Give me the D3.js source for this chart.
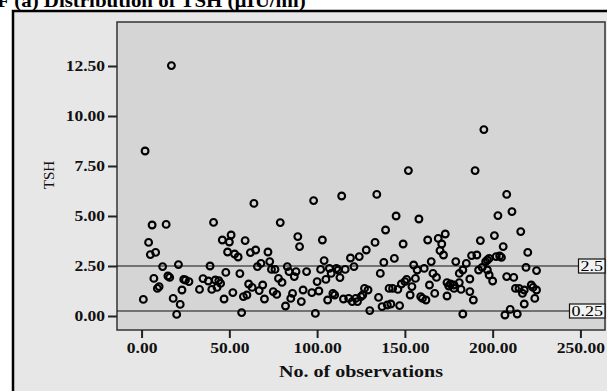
<!DOCTYPE html>
<html>
<head>
<meta charset="utf-8">
<script src="https://cdn.jsdelivr.net/npm/d3@7"></script>
<style>
  body { margin: 0; background: #fff; }
  svg { display: block; font-family: "Liberation Serif", "DejaVu Serif", serif; }
</style>
</head>
<body>
<svg id="chart" width="607" height="391"></svg>
<script>
const obs = [
  1, 2, 4, 5, 6, 7, 8, 9, 10, 12,
  14, 15, 16, 17, 18, 20, 21, 22, 23, 24,
  25, 27, 33, 35, 38, 39, 40, 41, 42, 43,
  44, 45, 46, 47, 48, 49, 50, 51, 52, 53,
  55, 56, 57, 58, 59, 60, 61, 62, 63, 64,
  65, 66, 67, 68, 69, 70, 72, 73, 74, 75,
  76, 77, 78, 79, 80, 82, 83, 84, 85, 86,
  87, 88, 89, 90, 91, 92, 94, 97, 98, 99,
  100, 101, 102, 103, 104, 105, 106, 107, 108, 109,
  110, 111, 112, 113, 114, 115, 116, 118, 119, 120,
  121, 122, 123, 124, 125, 126, 127, 128, 129, 130,
  133, 134, 135, 136, 137, 138, 139, 140, 141, 142,
  143, 144, 145, 146, 147, 148, 149, 150, 151, 152,
  153, 154, 155, 156, 157, 158, 159, 160, 161, 162,
  163, 164, 165, 166, 167, 168, 169, 170, 171, 172,
  173, 174, 174, 175, 176, 178, 178, 179, 181, 181,
  182, 183, 183, 185, 187, 187, 188, 189, 190, 191,
  192, 193, 194, 195, 196, 197, 197, 198, 198, 200,
  201, 202, 203, 204, 205, 206, 207, 208, 208, 210,
  211, 212, 213, 214, 215, 216, 217, 218, 218, 219,
  220, 222, 223, 224, 225, 225
];
const tsh = [
  0.83, 8.25, 3.68, 3.07, 4.55, 1.88, 3.18, 1.38, 1.47, 2.47,
  4.58, 2.00, 1.93, 12.52, 0.88, 0.08, 2.57, 0.58, 1.30, 1.83,
  1.80, 1.72, 1.33, 1.87, 1.75, 2.50, 1.33, 4.68, 1.80, 1.43,
  1.77, 1.63, 3.80, 0.85, 2.18, 3.20, 3.70, 4.05, 1.17, 3.10,
  2.95, 2.12, 0.17, 0.97, 3.77, 1.05, 1.60, 3.17, 1.43, 5.63,
  3.30, 2.47, 1.27, 2.63, 1.55, 0.85, 3.20, 2.72, 2.33, 1.22,
  2.33, 1.08, 1.88, 4.67, 1.68, 0.50, 2.47, 2.22, 0.88, 1.13,
  1.97, 2.22, 3.97, 3.47, 0.72, 1.30, 2.22, 1.17, 5.77, 0.13,
  1.72, 1.25, 2.33, 3.80, 2.77, 1.83, 0.80, 2.38, 2.13, 1.13,
  1.05, 2.38, 2.30, 1.92, 6.00, 0.85, 2.33, 0.88, 2.90, 0.72,
  2.47, 0.88, 0.72, 2.97, 0.97, 1.05, 1.38, 3.30, 1.30, 0.27,
  3.68, 6.08, 0.93, 2.13, 0.47, 2.68, 4.30, 0.55, 1.38, 0.60,
  1.38, 2.88, 5.00, 1.33, 0.52, 1.60, 3.60, 1.72, 1.83, 7.27,
  1.05, 1.47, 2.55, 1.88, 2.30, 4.85, 0.97, 0.88, 2.38, 0.80,
  3.80, 1.55, 2.72, 2.13, 1.13, 1.93, 3.88, 3.27, 3.60, 3.05,
  4.10, 1.67, 1.00, 1.50, 1.60, 1.55, 1.38, 2.72, 2.13, 1.67,
  1.33, 2.30, 0.10, 2.63, 1.85, 1.22, 3.02, 0.80, 7.27, 3.05,
  2.30, 3.77, 2.43, 9.32, 2.72, 2.30, 2.80, 2.88, 2.05, 1.75,
  4.02, 2.97, 5.02, 3.00, 2.93, 3.47, 0.05, 6.08, 1.97, 0.33,
  5.22, 1.93, 1.38, 0.10, 1.38, 4.22, 1.13, 1.30, 0.60, 2.43,
  3.18, 1.55, 1.43, 0.88, 2.27, 1.30
];
const xTicks = [0, 50, 100, 150, 200, 250];
const yTicks = [0, 2.5, 5, 7.5, 10, 12.5];
const refLines = [2.5, 0.25];
const refLabels = ["2.5", "0.25"];

const svg = d3.select("#chart");

// the source figure is stretched sideways, so widen glyphs to match
function stretch(sel, k) {
  sel.each(function () {
    const w = this.getComputedTextLength();
    d3.select(this).attr("textLength", w * k).attr("lengthAdjust", "spacingAndGlyphs");
  });
}

// page title, cut off at the top like the source figure
svg.append("text")
  .attr("x", -3).attr("y", 7)
  .attr("font-size", 19).attr("font-weight", "bold")
  .text("F (a) Distribution of TSH (µIU/ml)")
  .call(stretch, 1.1);

// outer panel
svg.append("rect")
  .attr("x", 13).attr("y", 11)
  .attr("width", 620).attr("height", 400)
  .attr("fill", "#e7e7e7")
  .attr("stroke", "#000").attr("stroke-width", 2.5);

const x = d3.scaleLinear().domain([-14, 264]).range([117, 605]);
const y = d3.scaleLinear().domain([-0.7, 14.7]).range([330, 22]);

// plot area
svg.append("rect")
  .attr("x", x(-14)).attr("y", y(14.7))
  .attr("width", x(264) - x(-14)).attr("height", y(-0.7) - y(14.7))
  .attr("fill", "#d5d5d5")
  .attr("stroke", "#333").attr("stroke-width", 1.5);

const yAxis = svg.append("g")
  .attr("transform", `translate(${x(-14)},0)`)
  .call(d3.axisLeft(y).tickValues(yTicks).tickFormat(d3.format(".2f")).tickSize(9).tickPadding(3));
const xAxis = svg.append("g")
  .attr("transform", `translate(0,${y(-0.7)})`)
  .call(d3.axisBottom(x).tickValues(xTicks).tickFormat(d3.format(".2f")).tickSize(8).tickPadding(5));
[yAxis, xAxis].forEach(a => {
  a.select(".domain").remove();
  a.selectAll(".tick line").attr("stroke", "#222").attr("stroke-width", 2);
  a.selectAll(".tick text")
    .attr("fill", "#111")
    .attr("font-family", "Liberation Serif, serif")
    .attr("font-weight", "bold")
    .attr("font-size", 14)
    .call(stretch, 1.25);
});

// reference lines with boxed labels
refLines.forEach((v, i) => {
  svg.append("line")
    .attr("x1", x(-14)).attr("x2", x(264))
    .attr("y1", y(v)).attr("y2", y(v))
    .attr("stroke", "#111").attr("stroke-width", 1.2);
  const t = svg.append("text")
    .attr("x", x(264) - 2).attr("y", y(v) + 5)
    .attr("text-anchor", "end")
    .attr("font-size", 15)
    .text(refLabels[i])
    .call(stretch, 1.2);
  const b = t.node().getBBox();
  svg.insert("rect", () => t.node())
    .attr("x", b.x - 2).attr("y", y(v) - 7)
    .attr("width", x(264) - b.x + 2).attr("height", 14)
    .attr("fill", "#f2f2f2")
    .attr("stroke", "#111").attr("stroke-width", 1.2);
});

// observations
svg.append("g")
  .selectAll("circle")
  .data(obs.map((o, i) => [o, tsh[i]]))
  .join("circle")
  .attr("cx", d => x(d[0]))
  .attr("cy", d => y(d[1]))
  .attr("r", 3.4)
  .attr("fill", "none")
  .attr("stroke", "#000")
  .attr("stroke-width", 2.1);

// axis titles
svg.append("text")
  .attr("x", 361).attr("y", 377)
  .attr("text-anchor", "middle")
  .attr("font-size", 16).attr("font-weight", "bold")
  .attr("fill", "#111")
  .text("No. of observations")
  .call(stretch, 1.25);
svg.append("text")
  .attr("transform", "translate(54,175) rotate(-90)")
  .attr("text-anchor", "middle")
  .attr("font-size", 15)
  .attr("fill", "#111")
  .text("TSH");
</script>
</body>
</html>
